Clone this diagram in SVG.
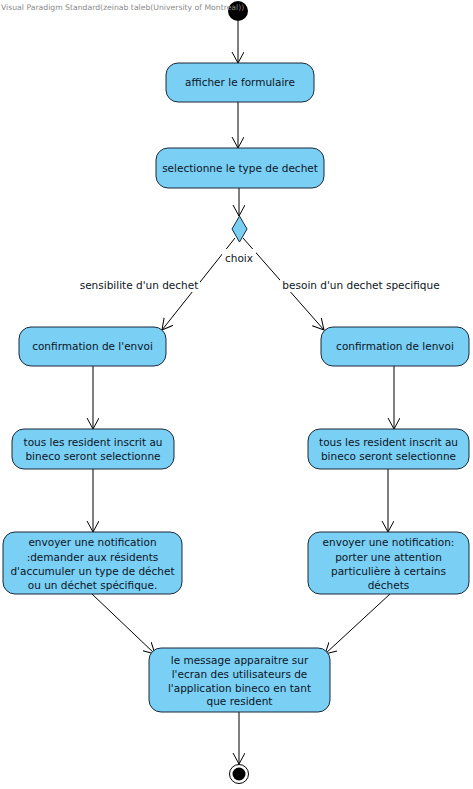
<svg xmlns="http://www.w3.org/2000/svg" width="473" height="789" viewBox="0 0 473 789">
<defs>
<marker id="arr" markerUnits="userSpaceOnUse" markerWidth="14" markerHeight="14" refX="11" refY="6" orient="auto">
<path d="M0,0 L11,6 L0,12" fill="none" stroke="#000" stroke-width="1"/>
</marker>
<style>
.act{fill:#7ACFF5;stroke:#1b2838;stroke-width:1}
.t{font-family:"DejaVu Sans",Verdana,sans-serif;font-size:10.5px;fill:#0d1524;text-anchor:middle}
.c{stroke:#000;stroke-width:1;fill:none;marker-end:url(#arr)}
.lbl{fill:#fff}
</style>
</defs>
<rect width="473" height="789" fill="#fff"/>

<g id="connectors">
<line class="c" x1="238" y1="21" x2="238" y2="63"/>
<line class="c" x1="238" y1="102" x2="238" y2="148"/>
<line class="c" x1="239" y1="188" x2="239" y2="216"/>
<line class="c" x1="235" y1="238" x2="162" y2="330"/>
<line class="c" x1="243" y1="238" x2="324" y2="330"/>
<line class="c" x1="93" y1="366" x2="93" y2="429"/>
<line class="c" x1="93" y1="469" x2="93" y2="532"/>
<line class="c" x1="394" y1="366" x2="394" y2="429"/>
<line class="c" x1="388" y1="469" x2="388" y2="532"/>
<line class="c" x1="92" y1="594" x2="155" y2="654"/>
<line class="c" x1="390" y1="594" x2="325" y2="654"/>
<line class="c" x1="239" y1="712" x2="239" y2="764"/>
<rect class="lbl" x="222" y="249" width="34" height="15"/>
<text class="t" x="239" y="262">choix</text>
<rect class="lbl" x="78" y="277" width="122" height="15"/>
<text class="t" x="139" y="289">sensibilite d'un dechet</text>
<rect class="lbl" x="280" y="277" width="163" height="15"/>
<text class="t" x="361" y="289">besoin d'un dechet specifique</text>
</g>

<g id="start"><circle cx="238" cy="11" r="10" fill="#000"/></g>

<g id="n1"><rect class="act" x="166" y="63" width="148" height="39" rx="12"/>
<text class="t" x="240" y="86">afficher le formulaire</text></g>

<g id="n2"><rect class="act" x="156" y="148" width="168" height="40" rx="12"/>
<text class="t" x="240" y="172">selectionne le type de dechet</text></g>

<g id="decision"><polygon class="act" points="239.5,216 247,229 239.5,242 232,229"/></g>

<g id="n3"><rect class="act" x="19" y="327" width="147" height="39" rx="12"/>
<text class="t" x="92.5" y="350">confirmation de l'envoi</text></g>

<g id="n4"><rect class="act" x="321" y="327" width="148" height="39" rx="12"/>
<text class="t" x="395" y="350">confirmation de lenvoi</text></g>

<g id="n5"><rect class="act" x="12" y="429" width="162" height="40" rx="12"/>
<text class="t" x="93" y="445.5">tous les resident inscrit au</text>
<text class="t" x="93" y="460">bineco seront selectionne</text></g>

<g id="n6"><rect class="act" x="308" y="429" width="161" height="40" rx="12"/>
<text class="t" x="388.5" y="445.5">tous les resident inscrit au</text>
<text class="t" x="388.5" y="460">bineco seront selectionne</text></g>

<g id="n7"><rect class="act" x="3" y="532" width="179" height="62" rx="12"/>
<text class="t" x="92.5" y="546">envoyer une notification</text>
<text class="t" x="92.5" y="560.5">:demander aux résidents</text>
<text class="t" x="92.5" y="574.5">d'accumuler un type de déchet</text>
<text class="t" x="92.5" y="589">ou un déchet spécifique.</text></g>

<g id="n8"><rect class="act" x="308" y="532" width="161" height="62" rx="12"/>
<text class="t" x="388.5" y="546">envoyer une notification:</text>
<text class="t" x="388.5" y="560.5">porter une attention</text>
<text class="t" x="388.5" y="574.5">particulière à certains</text>
<text class="t" x="388.5" y="589">déchets</text></g>

<g id="n9"><rect class="act" x="149" y="648" width="181" height="64" rx="12"/>
<text class="t" x="239.5" y="663.5">le message apparaitre sur</text>
<text class="t" x="239.5" y="677.5">l'ecran des utilisateurs de</text>
<text class="t" x="239.5" y="691.5">l'application bineco en tant</text>
<text class="t" x="239.5" y="705">que resident</text></g>

<g id="end"><circle cx="239" cy="774" r="9.5" fill="#fff" stroke="#000" stroke-width="1"/>
<circle cx="239" cy="774" r="6.5" fill="#000"/></g>

<text x="1" y="10" style="font-family:'DejaVu Sans',sans-serif;font-size:7.7px;fill:#8a8a8a">Visual Paradigm Standard(zeinab taleb(University of Montreal))</text>
</svg>
